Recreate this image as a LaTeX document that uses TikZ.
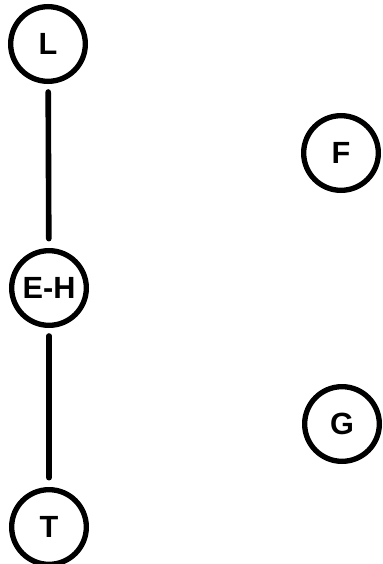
\documentclass[tikz,border=0pt]{standalone}
\usepackage{fontspec}
\setmainfont{Liberation Sans}
\begin{document}
\begin{tikzpicture}[x=0.75pt,y=-0.75pt,
  state/.style={circle,draw=black,line width=4pt,minimum size=56pt,inner sep=0pt,font=\fontsize{23}{26}\selectfont\bfseries},
  link/.style={line width=4.2pt,line cap=round,shorten >=7pt,shorten <=6pt}]
\useasboundingbox (0,0) rectangle (382,564);
\node[state] (L) at (48,44) {L};
\node[state] (EH) at (49,288) {E-H};
\node[state] (T) at (49,527) {T};
\node[state] (F) at (341,153) {F};
\node[state] (G) at (342,424) {G};
\draw[link] (L) -- (EH);
\draw[link] (EH) -- (T);
\end{tikzpicture}
\end{document}
